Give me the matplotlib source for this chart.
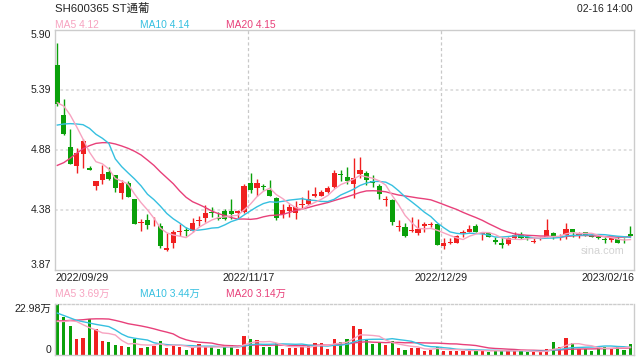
import numpy as np
import matplotlib
matplotlib.use("Agg")
import matplotlib.pyplot as plt
import pandas as pd

plt.rcParams['font.family'] = ['Liberation Sans', 'Noto Sans CJK SC', 'DejaVu Sans']

title = "SH600365 ST通葡"
timestamp = "02-16 14:00"
date_labels = ["2022/09/29", "2022/11/17", "2022/12/29", "2023/02/16"]
date_idx = [0, 30, 60, 89]
price_tick_labels = ["5.90", "5.39", "4.88", "4.38", "3.87"]
price_min, price_max = 3.87, 5.90
vol_max = 22.98
vol_tick_labels = ["22.98万", "0"]
price_legend = ["MA5 4.12", "MA10 4.14", "MA20 4.15"]
vol_legend = ["MA5 3.69万", "MA10 3.44万", "MA20 3.14万"]

opens = [5.60, 5.18, 4.91, 4.75, 4.85, 4.73, 4.58, 4.63, 4.70, 4.67,
         4.52, 4.61, 4.47, 4.27, 4.29, 4.255, 4.24, 4.04, 4.10, 4.19,
         4.21, 4.20, 4.285, 4.31, 4.36, 4.31, 4.37, 4.37, 4.35, 4.36,
         4.61, 4.56, 4.58, 4.55, 4.48, 4.34, 4.37, 4.35, 4.42, 4.43,
         4.50, 4.50, 4.53, 4.57, 4.68, 4.66, 4.60, 4.68, 4.69, 4.62,
         4.58, 4.46, 4.46, 4.23, 4.23, 4.20, 4.18, 4.24, 4.25, 4.26,
         4.07, 4.10, 4.10, 4.18, 4.19, 4.24, 4.174, 4.18, 4.12, 4.10,
         4.09, 4.14, 4.17, 4.152, 4.11, 4.13, 4.15, 4.18, 4.146, 4.17,
         4.22, 4.166, 4.19, 4.16, 4.15, 4.129, 4.12, 4.13, 4.118, 4.175]
highs = [5.79, 5.32, 5.06, 4.90, 4.98, 4.75, 4.62, 4.76, 4.74, 4.67,
         4.63, 4.62, 4.47, 4.30, 4.34, 4.32, 4.27, 4.18, 4.21, 4.26,
         4.23, 4.31, 4.33, 4.42, 4.40, 4.36, 4.39, 4.47, 4.38, 4.60,
         4.69, 4.64, 4.60, 4.63, 4.49, 4.43, 4.43, 4.45, 4.49, 4.55,
         4.57, 4.55, 4.58, 4.72, 4.72, 4.74, 4.82, 4.83, 4.71, 4.67,
         4.60, 4.50, 4.47, 4.29, 4.27, 4.32, 4.30, 4.28, 4.28, 4.26,
         4.14, 4.14, 4.17, 4.21, 4.25, 4.26, 4.19, 4.19, 4.15, 4.15,
         4.15, 4.19, 4.19, 4.17, 4.14, 4.15, 4.30, 4.19, 4.175, 4.27,
         4.22, 4.19, 4.19, 4.18, 4.17, 4.15, 4.15, 4.15, 4.14, 4.24]
lows = [5.26, 5.01, 4.77, 4.69, 4.73, 4.72, 4.55, 4.60, 4.63, 4.53,
        4.47, 4.49, 4.26, 4.20, 4.22, 4.24, 4.06, 4.03, 4.06, 4.16,
        4.16, 4.19, 4.24, 4.28, 4.32, 4.29, 4.29, 4.30, 4.31, 4.35,
        4.52, 4.50, 4.55, 4.50, 4.29, 4.31, 4.32, 4.30, 4.39, 4.42,
        4.49, 4.50, 4.52, 4.56, 4.62, 4.60, 4.48, 4.65, 4.59, 4.57,
        4.47, 4.41, 4.25, 4.20, 4.15, 4.19, 4.17, 4.19, 4.23, 4.08,
        4.05, 4.09, 4.10, 4.15, 4.19, 4.19, 4.12, 4.15, 4.09, 4.06,
        4.08, 4.13, 4.13, 4.12, 4.10, 4.12, 4.15, 4.13, 4.12, 4.13,
        4.15, 4.14, 4.16, 4.15, 4.13, 4.10, 4.11, 4.10, 4.10, 4.16]
closes = [5.27, 5.02, 4.77, 4.86, 4.96, 4.72, 4.62, 4.68, 4.64, 4.56,
          4.61, 4.49, 4.26, 4.28, 4.25, 4.262, 4.07, 4.06, 4.19, 4.20,
          4.20, 4.27, 4.295, 4.35, 4.35, 4.30, 4.30, 4.34, 4.37, 4.58,
          4.55, 4.61, 4.57, 4.50, 4.31, 4.38, 4.40, 4.40, 4.43, 4.47,
          4.51, 4.53, 4.56, 4.69, 4.67, 4.62, 4.65, 4.72, 4.63, 4.61,
          4.51, 4.47, 4.28, 4.24, 4.16, 4.21, 4.22, 4.26, 4.26, 4.08,
          4.10, 4.11, 4.16, 4.19, 4.22, 4.19, 4.18, 4.15, 4.11, 4.08,
          4.14, 4.17, 4.14, 4.138, 4.115, 4.14, 4.21, 4.16, 4.152, 4.22,
          4.19, 4.172, 4.17, 4.15, 4.14, 4.124, 4.14, 4.10, 4.113, 4.16]
volumes = [22.98, 16.9, 13.1, 7.4, 7.8, 16.3, 11.8, 6.5, 6.0, 4.5,
           4.1, 3.8, 7.4, 3.3, 3.8, 4.2, 6.5, 3.3, 4.2, 3.8,
           2.4, 3.2, 5.0, 3.6, 3.6, 2.9, 4.0, 4.4, 2.9, 8.6,
           7.4, 6.9, 3.8, 3.8, 5.3, 2.9, 3.3, 3.3, 4.0, 4.0,
           5.3, 5.4, 2.9, 7.3, 5.9, 7.3, 13.1, 11.8, 6.8, 5.0,
           5.6, 4.5, 6.3, 3.2, 2.3, 3.2, 3.2, 2.0, 2.4, 3.8,
           2.0, 2.0, 2.0, 1.7, 2.4, 2.0, 2.0, 1.2, 2.0, 2.4,
           2.0, 2.0, 1.7, 1.2, 1.5, 1.2, 2.9, 5.9, 3.6, 7.7,
           5.4, 2.9, 2.8, 2.0, 3.5, 3.8, 2.9, 3.8, 2.4, 5.0]

# Moving-average values at the start of the window
ma5_head = [5.285, 5.257, 5.181, 5.082]
ma10_head = [5.096, 5.105, 5.108, 5.105, 5.099, 5.068, 5.018, 4.984, 4.941]
ma20_head = [4.755, 4.778, 4.815, 4.857, 4.896, 4.922, 4.941, 4.947, 4.947, 4.936,
             4.919, 4.899, 4.874, 4.843, 4.80, 4.755, 4.70, 4.65, 4.60]
vma5_head = [15.1, 15.1, 15.4, 15.1]
vma10_head = [18.9, 17.8, 16.7, 15.6, 15.0, 14.4, 13.8, 13.3, 12.8]
vma20_head = [15.4, 15.4, 15.6, 15.7, 15.9, 16.2, 16.3, 16.3, 16.2, 15.6,
              14.9, 14.1, 13.6, 13.1, 12.5, 11.8, 11.0, 10.3, 9.5]

RED = '#f02020'
GREEN = '#0aa00a'
C_MA5 = '#f7a3c0'
C_MA10 = '#36c0e0'
C_MA20 = '#e8407a'
SPINE = '#cccccc'


def moving(vals, n, head):
    s = pd.Series(vals, dtype=float).rolling(n).mean().to_numpy()
    s[:n - 1] = head
    return s


o = np.array(opens); h = np.array(highs); l = np.array(lows); c = np.array(closes)
v = np.array(volumes)
x = np.arange(len(o))
cols = [RED if cc >= oo else GREEN for oo, cc in zip(o, c)]

W, H = 640, 360
fig = plt.figure(figsize=(6.4, 3.6), dpi=100)
fig.patch.set_facecolor('white')


def ftext(px, py, s, **kw):
    fig.text(px / W, 1 - py / H, s, **kw)


ax = fig.add_axes([55 / W, 1 - 270 / H, 579 / W, 240 / H])
ax2 = fig.add_axes([55 / W, 1 - 355 / H, 579 / W, 51 / H])
xl = (-0.36, 89.55)

for a in (ax, ax2):
    a.set_xlim(*xl)
    a.tick_params(left=False, bottom=False, labelleft=False, labelbottom=False)
    for sp in a.spines.values():
        sp.set_color(SPINE)
        sp.set_linewidth(1)
    for di in date_idx[1:3]:
        a.axvline(di - 0.37, color='#c8c8c8', lw=0.9, ls=(0, (2.5, 2)), zorder=0)

ax2.spines['top'].set_linestyle((0, (1.5, 1.5)))

# price panel
ax.set_ylim(price_min, price_max)
tick_pos = np.linspace(price_max, price_min, len(price_tick_labels))
for yv in tick_pos[1:-1]:
    ax.axhline(yv, color='#dddddd', lw=1.3, ls=(0, (1.5, 1.5)), zorder=0)
for i, (yv, lab) in enumerate(zip(tick_pos, price_tick_labels)):
    va = 'top' if i == 0 else ('bottom' if i == len(tick_pos) - 1 else 'center')
    ax.text(-0.007, yv, lab, transform=ax.get_yaxis_transform(), ha='right', va=va,
            fontsize=7.6, color='#222222')

body_b = np.minimum(o, c)
body_h = np.maximum(np.abs(c - o), 0.005)
ax.vlines(x, l, h, colors=cols, lw=1.0, zorder=2)
ax.bar(x, body_h, bottom=body_b, width=0.8, color=cols, linewidth=0, zorder=3)

ma5 = moving(c, 5, ma5_head)
ma10 = moving(c, 10, ma10_head)
ma20 = moving(c, 20, ma20_head)
ax.plot(x, ma20, color=C_MA20, lw=1.0, zorder=4)
ax.plot(x, ma10, color=C_MA10, lw=1.0, zorder=4)
ax.plot(x, ma5, color=C_MA5, lw=1.0, zorder=4)

# volume panel
ax2.set_ylim(0, vol_max)
ax2.bar(x, v, width=0.5, color=cols, linewidth=0, zorder=2)
vma5 = moving(v, 5, vma5_head)
vma10 = moving(v, 10, vma10_head)
vma20 = moving(v, 20, vma20_head)
ax2.plot(x, vma20, color=C_MA20, lw=1.0, zorder=4)
ax2.plot(x, vma10, color=C_MA10, lw=1.0, zorder=4)
ax2.plot(x, vma5, color=C_MA5, lw=1.0, zorder=4)
ax2.text(-0.007, vol_max, vol_tick_labels[0], transform=ax2.get_yaxis_transform(),
         ha='right', va='top', fontsize=7.6, color='#222222')
ax2.text(-0.007, 0, vol_tick_labels[1], transform=ax2.get_yaxis_transform(),
         ha='right', va='bottom', fontsize=7.6, color='#222222')

# date labels
tr = ax.get_xaxis_transform()
dy = (270 - 278) / 240
ax.text(xl[0], dy, date_labels[0], transform=tr, ha='left', va='center', fontsize=7.7, color='#222222')
ax.text(date_idx[1] - 0.37, dy, date_labels[1], transform=tr, ha='center', va='center', fontsize=7.7, color='#222222')
ax.text(date_idx[2] - 0.37, dy, date_labels[2], transform=tr, ha='center', va='center', fontsize=7.7, color='#222222')
ax.text(xl[1], dy, date_labels[3], transform=tr, ha='right', va='center', fontsize=7.7, color='#222222')

# header texts
ftext(55, 8, title, ha='left', va='center', fontsize=8.2, color='#222222')
ftext(633, 9, timestamp, ha='right', va='center', fontsize=7.5, color='#222222')
leg_x = [55, 140.5, 225.5]
leg_c = [C_MA5, C_MA10, C_MA20]
for lx, s, cc in zip(leg_x, price_legend, leg_c):
    ftext(lx, 24.5, s, ha='left', va='center', fontsize=7.4, color=cc)
for lx, s, cc in zip(leg_x, vol_legend, leg_c):
    ftext(lx, 294, s, ha='left', va='center', fontsize=7.4, color=cc)

ftext(581, 250.5, "sina.com", ha='left', va='center', fontsize=7.8, color='#d3d3d3')

fig.savefig("out.png", dpi=100, facecolor='white')
